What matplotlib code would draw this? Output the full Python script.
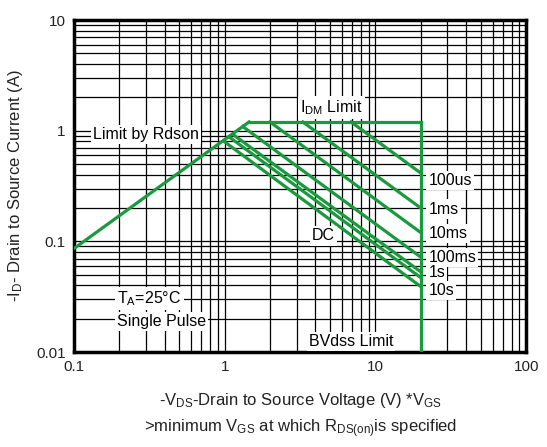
import numpy as np
import matplotlib.pyplot as plt
from matplotlib.ticker import LogLocator, NullFormatter, FixedLocator

plt.rcParams['font.family'] = ['Liberation Sans', 'DejaVu Sans']
plt.rcParams['mathtext.fontset'] = 'custom'
plt.rcParams['mathtext.rm'] = 'Liberation Sans'
plt.rcParams['mathtext.it'] = 'Liberation Sans'

# safe operating area corner points (V, A)
rdson_v = [0.1, 1.45]
rdson_i = [0.086, 1.2]
idm_v = [1.45, 20]
idm_i = [1.2, 1.2]
bvdss_v = [20, 20]
bvdss_i = [0.01, 1.2]

pulse_names = ["100us", "1ms", "10ms", "100ms", "1s", "DC", "10s"]
pulse_v = [[6.9, 20], [3.3, 20], [2.0, 20], [1.32, 20], [1.13, 20], [1.07, 20], [0.98, 20]]
pulse_i = [[1.2, 0.414], [1.2, 0.2], [1.2, 0.12], [1.09, 0.072],
           [0.93, 0.053], [0.88, 0.047], [0.81, 0.039]]

xticks = [0.1, 1, 10, 100]
xticklabels = ["0.1", "1", "10", "100"]
yticks = [0.01, 0.1, 1, 10]
yticklabels = ["0.01", "0.1", "1", "10"]

green = "#1a9a3f"
fig = plt.figure(figsize=(5.47, 4.47), dpi=100)
ax = fig.add_axes([0.135, 0.2125, 0.827, 0.7425])
ax.set_xscale('log')
ax.set_yscale('log')
ax.set_xlim(0.1, 100)
ax.set_ylim(0.01, 10)

ax.xaxis.set_major_locator(FixedLocator(xticks))
ax.yaxis.set_major_locator(FixedLocator(yticks))
ax.set_xticklabels(xticklabels)
ax.set_yticklabels(yticklabels)
ax.xaxis.set_minor_locator(LogLocator(base=10, subs=np.arange(2, 10)))
ax.yaxis.set_minor_locator(LogLocator(base=10, subs=np.arange(2, 10)))
ax.xaxis.set_minor_formatter(NullFormatter())
ax.yaxis.set_minor_formatter(NullFormatter())
ax.tick_params(which='both', length=0, labelsize=11, colors='#222222', pad=6)
ax.grid(which='both', color='black', linewidth=0.9)
for s in ax.spines.values():
    s.set_linewidth(2.5)

lw = 2.3
ax.plot(rdson_v, rdson_i, color=green, lw=lw, zorder=3)
ax.plot(idm_v, idm_i, color=green, lw=lw, zorder=3)
ax.plot(bvdss_v, bvdss_i, color=green, lw=lw, zorder=3)
for v, i in zip(pulse_v, pulse_i):
    ax.plot(v, i, color=green, lw=lw, zorder=3)

box = dict(facecolor='white', edgecolor='none', pad=1.5)
fs = 11.5
ax.text(5.1, 1.62, r'$\mathregular{I_{DM}}$ Limit', fontsize=fs, ha='center', va='center', bbox=box, zorder=4)
ax.text(0.30, 0.93, 'Limit by Rdson', fontsize=fs, ha='center', va='center', bbox=box, zorder=4)
ax.text(4.5, 0.112, 'DC', fontsize=fs, ha='center', va='center', bbox=box, zorder=4)
label_y = [0.358, 0.196, 0.117, 0.072, 0.052, None, 0.036]
for name, yy in zip(pulse_names, label_y):
    if yy is None:
        continue
    ax.text(22.5, yy, name, fontsize=fs, ha='left', va='center', bbox=box, zorder=4)
ax.text(0.194, 0.0303, r'T$_\mathregular{A}$=25°C', fontsize=fs, ha='left', va='center', bbox=box, zorder=4)
ax.text(0.194, 0.0188, 'Single Pulse', fontsize=fs, ha='left', va='center', bbox=box, zorder=4)
ax.text(6.9, 0.0124, 'BVdss Limit', fontsize=fs, ha='center', va='center', bbox=box, zorder=4)

ax.set_ylabel(r'-I$_\mathregular{D}$- Drain to Source Current (A)', fontsize=12, color='#222222', labelpad=8)
fig.text(0.55, 0.105, r'-V$_\mathregular{DS}$-Drain to Source Voltage (V) *V$_\mathregular{GS}$',
         fontsize=12, ha='center', va='center', color='#222222')
fig.text(0.55, 0.042, r'>minimum V$_\mathregular{GS}$ at which R$_\mathregular{DS(on)}$is specified',
         fontsize=12, ha='center', va='center', color='#222222')

plt.savefig('out.png', dpi=100)
